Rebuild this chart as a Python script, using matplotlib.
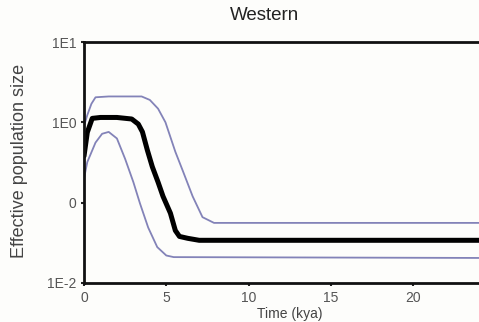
import matplotlib
matplotlib.use("Agg")
import matplotlib.pyplot as plt

plt.rcParams['font.family'] = ['Liberation Sans', 'DejaVu Sans']

# Median (black)
t_med = [0.0, 0.2, 0.5, 1.0, 2.0, 2.9, 3.3, 3.55, 3.85, 4.15, 4.5, 4.8, 5.25, 5.55, 5.8, 6.3, 7.0, 24.1]
ne_med = [0.38, 0.75, 1.12, 1.15, 1.15, 1.1, 0.95, 0.76, 0.45, 0.28, 0.18, 0.12, 0.074, 0.045, 0.038, 0.036, 0.034, 0.034]

# Upper 95% HPD
t_up = [0.0, 0.2, 0.45, 0.7, 1.5, 3.5, 4.0, 4.5, 4.95, 5.55, 6.0, 6.6, 7.2, 7.9, 11.0, 24.1]
ne_up = [0.9, 1.23, 1.7, 2.05, 2.1, 2.1, 1.9, 1.48, 1.0, 0.43, 0.25, 0.12, 0.066, 0.056, 0.056, 0.056]

# Lower 95% HPD
t_lo = [0.0, 0.2, 0.7, 1.1, 1.5, 2.0, 2.5, 3.0, 3.4, 3.9, 4.45, 5.0, 5.45, 24.1]
ne_lo = [0.2, 0.32, 0.56, 0.72, 0.76, 0.63, 0.35, 0.18, 0.098, 0.049, 0.028, 0.022, 0.021, 0.0205]

xticks = [0, 5, 10, 15, 20]
yticks = [1e-2, 1e-1, 1e0, 1e1]
ytick_labels = ['1E-2', '0', '1E0', '1E1']

fig = plt.figure(figsize=(4.79, 3.22), dpi=100)
fig.patch.set_facecolor('#fdfdfb')
ax = fig.add_axes([84/479, 39/322, 395/479, 241/322])
ax.set_facecolor('#fdfdfb')

band = '#8383b8'
ax.plot(t_up, ne_up, color=band, lw=1.3, solid_capstyle='round', solid_joinstyle='round')
ax.plot(t_lo, ne_lo, color=band, lw=1.3, solid_capstyle='round', solid_joinstyle='round')
ax.plot(t_med, ne_med, color='black', lw=3.6, solid_capstyle='round', solid_joinstyle='round')

ax.set_yscale('log')
ax.set_ylim(1e-2, 1e1)
ax.set_xlim(0, 24.0)
ax.set_yticks(yticks)
ax.set_yticklabels(ytick_labels)
ax.minorticks_off()
ax.set_xticks(xticks)

for s in ['left', 'top', 'bottom']:
    ax.spines[s].set_linewidth(2.0)
    ax.spines[s].set_color('#111111')
ax.spines['right'].set_visible(False)

ax.tick_params(axis='both', direction='out', length=2.5, width=1.5, color='#222222',
               labelsize=10, labelcolor='#555555', pad=3)

fig.text(265/479, 1 - 15/322, 'Western', ha='center', va='center', fontsize=13.5, color='#222222')
fig.text(20/479, 1 - 161/322, 'Effective population size', ha='center', va='center',
         rotation=90, fontsize=13, color='#444444')
fig.text(290/479, 1 - 314/322, 'Time (kya)', ha='center', va='center', fontsize=10, color='#444444')

fig.savefig('out.png', dpi=100, facecolor=fig.get_facecolor())
